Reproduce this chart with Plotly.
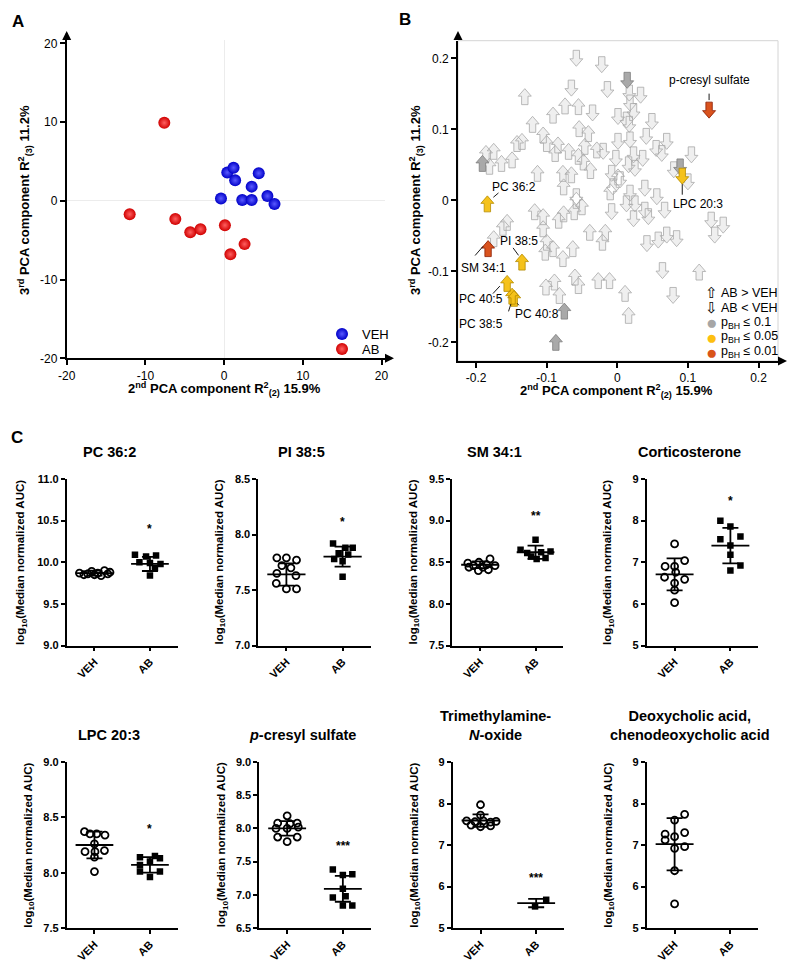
import plotly.graph_objects as go

W, H = 800, 971
OFF = 8  # page body margin of the html page, compensated in all pixel positions
FONT = "Liberation Sans, Arial, sans-serif"

# ---------------- A: PCA scores (2nd vs 3rd component)
veh_pc2 = [0.4, 1.2, 1.4, 3.5, 4.4, -0.4, 2.3, 3.5, 5.5, 6.4]
veh_pc3 = [3.6, 4.2, 2.6, 1.8, 3.5, 0.3, 0.1, 0.1, 0.6, -0.4]
ab_pc2 = [-7.6, -12.0, -6.2, -4.3, -3.0, 0.1, 0.8, 2.6]
ab_pc3 = [9.9, -1.7, -2.3, -4.0, -3.6, -3.1, -6.8, -5.5]
pca_ticks = [-20, -10, 0, 10, 20]

# ---------------- B: loadings, arrow up = AB > VEH, down = AB < VEH
up_x = [-0.131, -0.074, -0.055, -0.091, -0.120, -0.054, -0.041, -0.105, -0.100, -0.142,
        -0.135, -0.084, -0.088, -0.046, -0.029, -0.069, -0.055, -0.048, -0.186, -0.175,
        -0.181, -0.164, -0.149, -0.113, -0.038, -0.077, -0.065, 0.001, -0.076, -0.010,
        -0.058, -0.061, -0.050, -0.076, -0.117, -0.105, -0.105, -0.083, -0.156, -0.162,
        -0.175, -0.100, -0.102, -0.091, -0.077, -0.063, -0.039, -0.017, -0.021, 0.116,
        -0.101, -0.089, -0.082, -0.060, -0.055, -0.027, -0.011, 0.011, 0.016]
up_y = [0.146, 0.133, 0.132, 0.120, 0.107, 0.101, 0.094, 0.092, 0.080, 0.080,
        0.083, 0.078, 0.066, 0.076, 0.071, 0.069, 0.062, 0.054, 0.066, 0.069,
        0.048, 0.052, 0.057, 0.038, 0.042, 0.038, 0.036, 0.033, 0.019, 0.012,
        0.000, -0.016, -0.009, -0.019, -0.016, -0.023, -0.040, -0.028, -0.031, -0.038,
        -0.054, -0.059, -0.073, -0.068, -0.082, -0.068, -0.045, -0.045, -0.059, -0.101,
        -0.122, -0.115, -0.134, -0.108, -0.120, -0.113, -0.113, -0.131, -0.162]
down_x = [-0.058, -0.022, -0.065, -0.014, 0.017, 0.033, -0.035, 0.018, 0.023, 0.001,
          0.013, 0.017, 0.049, 0.041, 0.070, 0.001, 0.018, -0.020, 0.055, 0.063,
          0.105, -0.002, 0.023, 0.036, 0.016, 0.025, 0.080, 0.100, -0.008, 0.004,
          -0.058, -0.006, 0.018, 0.039, 0.056, -0.008, 0.013, 0.025, 0.039, 0.044,
          0.023, 0.067, 0.133, 0.150, 0.138, 0.042, 0.058, 0.070, 0.084, 0.064, 0.079]
down_y = [0.200, 0.191, 0.158, 0.156, 0.151, 0.148, 0.123, 0.137, 0.125, 0.118,
          0.113, 0.107, 0.111, 0.090, 0.083, 0.083, 0.085, 0.069, 0.073, 0.066,
          0.064, 0.059, 0.064, 0.059, 0.050, 0.045, 0.043, 0.026, 0.038, 0.029,
          0.005, 0.019, 0.010, 0.017, 0.005, -0.016, -0.005, -0.005, -0.014, -0.023,
          -0.026, -0.014, -0.028, -0.035, -0.049, -0.061, -0.056, -0.049, -0.054, -0.099, -0.134]

# p_BH <= 0.1 (grey)
p10_x = [0.014, -0.191, 0.089, -0.075, -0.087]
p10_y = [0.169, 0.052, 0.047, -0.156, -0.200]
p10_dir = [-1, 1, -1, 1, 1]
# p_BH <= 0.05 (yellow)
p05_names = ["PC 36:2", "LPC 20:3", "PI 38:5", "PC 40:5", "PC 38:5", "PC 40:8"]
p05_x = [-0.184, 0.092, -0.135, -0.156, -0.149, -0.146]
p05_y = [-0.005, 0.034, -0.087, -0.117, -0.135, -0.138]
p05_dir = [1, -1, 1, 1, 1, 1]
# p_BH <= 0.01 (orange-red)
p01_names = ["p-cresyl sulfate", "SM 34:1"]
p01_x = [0.130, -0.183]
p01_y = [0.127, -0.068]
p01_dir = [-1, 1]

# ---------------- C: log10(median normalized AUC) per animal
pc362_veh = [9.87, 9.85, 9.86, 9.89, 9.85, 9.87, 9.84, 9.90, 9.86, 9.88]
pc362_veh_dx = [-0.27, -0.19, -0.12, -0.05, 0.0, 0.06, 0.12, 0.18, 0.24, 0.28]
pc362_ab = [10.09, 10.07, 10.08, 10.00, 9.99, 9.98, 9.93, 9.84]
pc362_ab_dx = [-0.27, -0.07, 0.11, -0.19, 0.0, 0.19, 0.09, 0.0]

pi385_veh = [7.79, 7.79, 7.77, 7.72, 7.70, 7.65, 7.63, 7.56, 7.51, 7.51]
pi385_veh_dx = [-0.17, 0.0, 0.18, -0.08, 0.08, -0.17, 0.17, -0.18, 0.0, 0.18]
pi385_ab = [7.92, 7.88, 7.88, 7.83, 7.82, 7.78, 7.76, 7.62]
pi385_ab_dx = [-0.17, 0.05, 0.18, -0.07, 0.1, -0.15, 0.0, 0.0]

sm341_veh = [8.49, 8.46, 8.50, 8.44, 8.47, 8.54, 8.46, 8.40, 8.41, 8.44]
sm341_veh_dx = [-0.22, -0.12, -0.02, 0.05, 0.12, 0.18, 0.27, -0.03, 0.15, -0.2]
sm341_ab = [8.65, 8.77, 8.63, 8.61, 8.62, 8.57, 8.54, 8.55]
sm341_ab_dx = [-0.27, 0.0, 0.27, -0.15, 0.1, -0.08, 0.02, 0.18]

cort_veh = [7.44, 7.04, 6.90, 6.90, 6.76, 6.64, 6.59, 6.50, 6.33, 6.03]
cort_veh_dx = [0.0, 0.18, -0.17, 0.0, 0.02, -0.18, 0.18, 0.0, 0.0, 0.0]
cort_ab = [8.00, 7.86, 7.62, 7.55, 7.40, 7.18, 6.92, 6.80]
cort_ab_dx = [-0.18, 0.0, 0.18, -0.18, 0.0, 0.0, 0.18, 0.0]

lpc203_veh = [8.37, 8.35, 8.35, 8.34, 8.26, 8.19, 8.19, 8.20, 8.14, 8.01]
lpc203_veh_dx = [-0.18, -0.08, 0.04, 0.19, 0.0, -0.17, 0.01, 0.18, 0.0, 0.0]
lpc203_ab = [8.14, 8.15, 8.13, 8.07, 8.10, 8.01, 7.96, 8.01]
lpc203_ab_dx = [-0.18, 0.09, 0.18, -0.18, 0.0, -0.18, 0.0, 0.18]

pcs_veh = [8.19, 8.08, 8.07, 8.08, 8.00, 8.00, 8.02, 7.87, 7.80, 7.87]
pcs_veh_dx = [0.0, -0.17, 0.05, 0.18, -0.2, 0.0, 0.2, -0.17, 0.0, 0.18]
pcs_ab = [7.38, 7.30, 7.31, 7.09, 6.96, 6.98, 6.84, 6.84]
pcs_ab_dx = [-0.18, 0.0, 0.17, 0.0, -0.18, 0.05, 0.0, 0.17]

tmao_veh = [7.97, 7.72, 7.58, 7.56, 7.58, 7.55, 7.57, 7.48, 7.44, 7.46]
tmao_veh_dx = [0.0, 0.0, -0.25, -0.1, 0.05, 0.18, 0.28, -0.17, 0.0, 0.18]
tmao_ab = [5.68, 5.52]
tmao_ab_dx = [0.18, -0.02]

dca_veh = [7.74, 7.60, 7.26, 7.12, 7.20, 7.30, 6.92, 6.96, 6.38, 5.58]
dca_veh_dx = [0.18, 0.0, -0.17, -0.17, 0.0, 0.18, 0.0, 0.18, 0.0, 0.0]
dca_ab = []
dca_ab_dx = []

c_titles = ["PC 36:2", "PI 38:5", "SM 34:1", "Corticosterone",
            "LPC 20:3", "<i>p</i>-cresyl sulfate", "Trimethylamine-<br><i>N</i>-oxide",
            "Deoxycholic acid,<br>chenodeoxycholic acid"]
c_groups = ["VEH", "AB"]
c_veh_mean = [9.87, 7.64, 8.47, 6.71, 8.25, 8.00, 7.59, 7.02]
c_veh_sd = [0.03, 0.10, 0.04, 0.385, 0.12, 0.11, 0.15, 0.63]
c_ab_mean = [9.98, 7.80, 8.62, 7.40, 8.07, 7.09, 5.60, None]
c_ab_sd = [0.085, 0.09, 0.08, 0.425, 0.07, 0.195, 0.10, None]
c_stars = ["*", "*", "**", "*", "*", "***", "***", ""]
c_star_y = [10.43, 8.14, 9.09, 8.54, 8.42, 7.78, 6.28, None]
c_yrange = [(9.0, 11.0), (7.0, 8.5), (7.5, 9.5), (5, 9), (7.5, 9.0), (6.5, 9.0), (5, 9), (5, 9)]
c_dtick = [0.5, 0.5, 0.5, 1, 0.5, 0.5, 1, 1]

veh_sets = [(pc362_veh_dx, pc362_veh), (pi385_veh_dx, pi385_veh), (sm341_veh_dx, sm341_veh),
            (cort_veh_dx, cort_veh), (lpc203_veh_dx, lpc203_veh), (pcs_veh_dx, pcs_veh),
            (tmao_veh_dx, tmao_veh), (dca_veh_dx, dca_veh)]
ab_sets = [(pc362_ab_dx, pc362_ab), (pi385_ab_dx, pi385_ab), (sm341_ab_dx, sm341_ab),
           (cort_ab_dx, cort_ab), (lpc203_ab_dx, lpc203_ab), (pcs_ab_dx, pcs_ab),
           (tmao_ab_dx, tmao_ab), (dca_ab_dx, dca_ab)]


def pxx(x):
    return (x - OFF) / W


def pxy(y):
    return 1 - (y - OFF) / H


def dom_x(a, b):
    return [pxx(a), pxx(b)]


def dom_y(top, bottom):
    return [pxy(bottom), pxy(top)]


def font(size, bold=False, color="black"):
    return dict(family=FONT, size=size, color=color, weight="bold" if bold else "normal")


def label(x, y, text, size, bold=False, color="black", **kw):
    d = dict(xref="paper", yref="paper", x=pxx(x), y=pxy(y), text=text, showarrow=False,
             xanchor="center", yanchor="middle", font=font(size, bold, color))
    d.update(kw)
    return d


def axis_arrow(x, y, ax, ay):
    return dict(xref="paper", yref="paper", x=pxx(x), y=pxy(y), ax=ax, ay=ay, text="",
                showarrow=True, arrowhead=2, arrowsize=1, arrowwidth=1.8, arrowcolor="black")


fig = go.Figure()
ann = []

# ================= panel A
fig.add_trace(go.Scatter(
    x=veh_pc2, y=veh_pc3, mode="markers", name="VEH", xaxis="x", yaxis="y", legend="legend",
    marker=dict(size=12, color="#0000c8", gradient=dict(type="radial", color="#5a5aff"),
                line=dict(width=0))))
fig.add_trace(go.Scatter(
    x=ab_pc2, y=ab_pc3, mode="markers", name="AB", xaxis="x", yaxis="y", legend="legend2",
    marker=dict(size=12, color="#d00000", gradient=dict(type="radial", color="#ff6060"),
                line=dict(width=0))))

axis_common = dict(showline=True, linecolor="black", ticks="outside", tickcolor="black",
                   showgrid=False, fixedrange=True, automargin=False)
fig.update_layout(
    xaxis=dict(domain=dom_x(66.7, 385), range=[-20, 20.44], anchor="y",
               tickvals=pca_ticks, ticktext=[str(v) for v in pca_ticks],
               linewidth=1.8, ticklen=5, tickwidth=1.5, tickfont=font(12),
               zeroline=True, zerolinecolor="#ececec", zerolinewidth=1, **axis_common),
    yaxis=dict(domain=dom_y(40, 358.3), range=[-20, 20.42], anchor="x",
               tickvals=pca_ticks, ticktext=[str(v) for v in pca_ticks],
               linewidth=1.8, ticklen=5, tickwidth=1.5, tickfont=font(12),
               zeroline=True, zerolinecolor="#ececec", zerolinewidth=1, **axis_common),
)
ann.append(axis_arrow(394, 358.3, -10, 0))
ann.append(axis_arrow(66.7, 31, 0, 10))
ann.append(label(224, 389, "2<sup>nd</sup> PCA component R<sup>2</sup><sub>(2)</sub> 15.9%", 13, True))
ann.append(label(25, 200, "3<sup>rd</sup> PCA component R<sup>2</sup><sub>(3)</sub> 11.2%", 13, True,
                 textangle=-90))

# ================= panel B
bx0, bx1 = -0.2256, 0.2276
by0, by1 = -0.2263, 0.2248
sx = (bx1 - bx0) / (778 - 458)
sy = (by1 - by0) / (361 - 40.7)
ARROW = [(0, 8), (6.5, 0.5), (3.2, 0.5), (3.2, -8), (-3.2, -8), (-3.2, 0.5), (-6.5, 0.5), (0, 8)]


def block_arrows(xs, ys, dirs):
    px, py = [], []
    for x, y, d in zip(xs, ys, dirs):
        for u, v in ARROW:
            px.append(x + u * sx)
            py.append(y + d * v * sy)
        px.append(None)
        py.append(None)
    return px, py


groups_b = [
    (up_x + down_x, up_y + down_y, [1] * len(up_x) + [-1] * len(down_x), "#efefef", "#a8a8a8"),
    (p10_x, p10_y, p10_dir, "#a9a9a9", "#7d7d7d"),
    (p05_x, p05_y, p05_dir, "#f5c21b", "#b58c00"),
    (p01_x, p01_y, p01_dir, "#d9531e", "#8a1c00"),
]
for xs, ys, ds, fillc, linec in groups_b:
    ax_, ay_ = block_arrows(xs, ys, ds)
    fig.add_trace(go.Scatter(x=ax_, y=ay_, mode="lines", fill="toself", fillcolor=fillc,
                             line=dict(color=linec, width=0.8), xaxis="x2", yaxis="y2",
                             showlegend=False, hoverinfo="skip"))

b_ticks = [-0.2, -0.1, 0, 0.1, 0.2]
b_ticktext = ["-0.2", "-0.1", "0", "0.1", "0.2"]
fig.update_layout(
    xaxis2=dict(domain=dom_x(458, 778), range=[bx0, bx1], anchor="y2", tickvals=b_ticks,
                ticktext=b_ticktext, linewidth=1.8, ticklen=5, tickwidth=1.5, tickfont=font(12),
                zeroline=False, **axis_common),
    yaxis2=dict(domain=dom_y(40.7, 361), range=[by0, by1], anchor="x2", tickvals=b_ticks,
                ticktext=b_ticktext, linewidth=1.8, ticklen=5, tickwidth=1.5, tickfont=font(12),
                zeroline=False, **axis_common),
)
fig.add_shape(type="rect", xref="x2 domain", yref="y2 domain", x0=0, x1=1, y0=0, y1=1,
              line=dict(color="#d4d4d4", width=1), layer="below")
ann.append(axis_arrow(787, 361, -9, 0))
ann.append(axis_arrow(458, 31, 0, 10))
ann.append(label(616, 391, "2<sup>nd</sup> PCA component R<sup>2</sup><sub>(2)</sub> 15.9%", 13, True))
ann.append(label(416, 200, "3<sup>rd</sup> PCA component R<sup>2</sup><sub>(3)</sub> 11.2%", 13, True,
                 textangle=-90))

# labels: text offset, leader tail offset, leader head offset (pixels, y down)
label_layout = {
    "p-cresyl sulfate": ((0, -30), (0, -18), (0, -10)),
    "PC 36:2": ((27, -17), (12.6, -12.2), (6, -6.6)),
    "LPC 20:3": ((16, 28), (0, 20), (0, 8)),
    "PI 38:5": ((-3, -21), (-10, -15.7), (-3.4, -6.7)),
    "SM 34:1": ((-5, 19), (-14.3, 8.4), (-5, -2.3)),
    "PC 40:5": ((-26.3, 16), (-15.6, 11.7), (-7.3, 2.7)),
    "PC 38:5": ((-30.6, 28), (-4, 16.7), (-1.3, 8)),
    "PC 40:8": ((22.7, 15.3), (6, 8.5), (3, 5)),
}
for names, xs, ys in [(p05_names, p05_x, p05_y), (p01_names, p01_x, p01_y)]:
    for nm, x, y in zip(names, xs, ys):
        (tx, ty), (lx, ly), (hx, hy) = label_layout[nm]
        ann.append(dict(xref="x2", yref="y2", x=x + tx * sx, y=y - ty * sy, text=nm,
                        showarrow=False, font=font(12)))
        ann.append(dict(xref="x2", yref="y2", axref="x2", ayref="y2",
                        x=x + hx * sx, y=y - hy * sy, ax=x + lx * sx, ay=y - ly * sy,
                        text="", showarrow=True, arrowhead=0, arrowwidth=0.9, arrowcolor="black"))

legend_b = [("⇧", "black", 15, "AB > VEH"), ("⇩", "black", 15, "AB < VEH"),
            ("●", "#a6a6a6", 19, "p<sub>BH</sub> ≤ 0.1"), ("●", "#fdbf10", 19, "p<sub>BH</sub> ≤ 0.05"),
            ("●", "#d9541a", 19, "p<sub>BH</sub> ≤ 0.01")]
for i, (sym, col, sz, lab) in enumerate(legend_b):
    yy = 293 + 14.8 * i
    ann.append(label(711, yy, sym, sz, color=col))
    ann.append(label(719, yy, lab, 12.5, xanchor="left"))

# ================= panel C
c_xdom = [(66.7, 177.7), (258.3, 370.7), (452.3, 563.3), (646.7, 758.3),
          (66.7, 177.7), (259.3, 370.7), (452.7, 564), (646.7, 758.3)]
c_ydom = [(479, 645.5)] * 4 + [(762, 928)] * 4
c_title_shift = 13
c_ytitle_gap = [45, 38, 38, 38, 38, 37, 38, 38]

for i in range(8):
    k = i + 3
    xa, ya = f"x{k}", f"y{k}"
    vdx, vy = veh_sets[i]
    adx, ay = ab_sets[i]
    fig.add_trace(go.Scatter(x=[0 + d for d in vdx], y=vy, mode="markers", xaxis=xa, yaxis=ya,
                             showlegend=False, hoverinfo="skip",
                             marker=dict(symbol="circle-open", size=7, color="black",
                                         line=dict(width=1.8))))
    if ay:
        fig.add_trace(go.Scatter(x=[1 + d for d in adx], y=ay, mode="markers", xaxis=xa, yaxis=ya,
                                 showlegend=False, hoverinfo="skip",
                                 marker=dict(symbol="square", size=6.5, color="black")))
    means = [(0, c_veh_mean[i], c_veh_sd[i]), (1, c_ab_mean[i], c_ab_sd[i])]
    for c, m, s in means:
        if m is None:
            continue
        fig.add_trace(go.Scatter(x=[c - 0.34, c + 0.34], y=[m, m], mode="lines", xaxis=xa, yaxis=ya,
                                 showlegend=False, hoverinfo="skip",
                                 line=dict(color="black", width=1.8)))
        fig.add_trace(go.Scatter(x=[c], y=[m], mode="markers", xaxis=xa, yaxis=ya,
                                 showlegend=False, hoverinfo="skip",
                                 marker=dict(size=1, color="rgba(0,0,0,0)"),
                                 error_y=dict(type="data", array=[s], visible=True, color="black",
                                              thickness=1.8, width=8)))
    if c_stars[i]:
        ann.append(dict(xref=xa, yref=ya, x=1, y=c_star_y[i], text=c_stars[i], showarrow=False,
                        font=font(12, True), yshift=-3))
    x0, x1 = c_xdom[i]
    t, b = c_ydom[i]
    lo, hi = c_yrange[i]
    step = c_dtick[i]
    yt = [lo + j * step for j in range(int(round((hi - lo) / step)) + 1)]
    fmt = ".1f" if step < 1 else ".0f"
    fig.update_layout({
        f"xaxis{k}": dict(domain=dom_x(x0, x1), range=[-0.5, 1.5], anchor=ya, tickvals=[0, 1],
                          ticktext=[f"<b>{g}</b>" for g in c_groups], tickangle=-45,
                          linewidth=1.8, ticklen=4, tickwidth=1.5,
                          tickfont=font(11), zeroline=False, **axis_common),
        f"yaxis{k}": dict(domain=dom_y(t, b), range=[lo, hi], anchor=xa, tickvals=yt,
                          ticktext=[f"<b>{v:{fmt}}</b>" for v in yt], linewidth=1.8, ticklen=4,
                          tickwidth=1.5, tickfont=font(11), zeroline=False, **axis_common),
    })
    ann.append(label((x0 + x1) / 2 - c_title_shift, t - 17, c_titles[i], 14.5, True,
                     yanchor="bottom"))
    ann.append(label(x0 - c_ytitle_gap[i], (t + b) / 2, "log<sub>10</sub>(Median normalized AUC)",
                     11.5, True, textangle=-90))

# panel letters
for letter, x, y in [("A", 18, 22), ("B", 405, 20), ("C", 17, 438)]:
    ann.append(label(x, y, letter, 17, True))

fig.update_layout(
    width=W, height=H, margin=dict(l=0, r=0, t=0, b=0, autoexpand=False),
    paper_bgcolor="white", plot_bgcolor="white",
    font=dict(family=FONT, color="black"),
    annotations=ann,
    showlegend=True,
    legend=dict(x=pxx(322), y=pxy(334), xanchor="left", yanchor="middle",
                bgcolor="rgba(0,0,0,0)", font=font(13), itemwidth=30),
    legend2=dict(x=pxx(322), y=pxy(349), xanchor="left", yanchor="middle",
                 bgcolor="rgba(0,0,0,0)", font=font(13), itemwidth=30),
)

fig.write_html("out.html")
